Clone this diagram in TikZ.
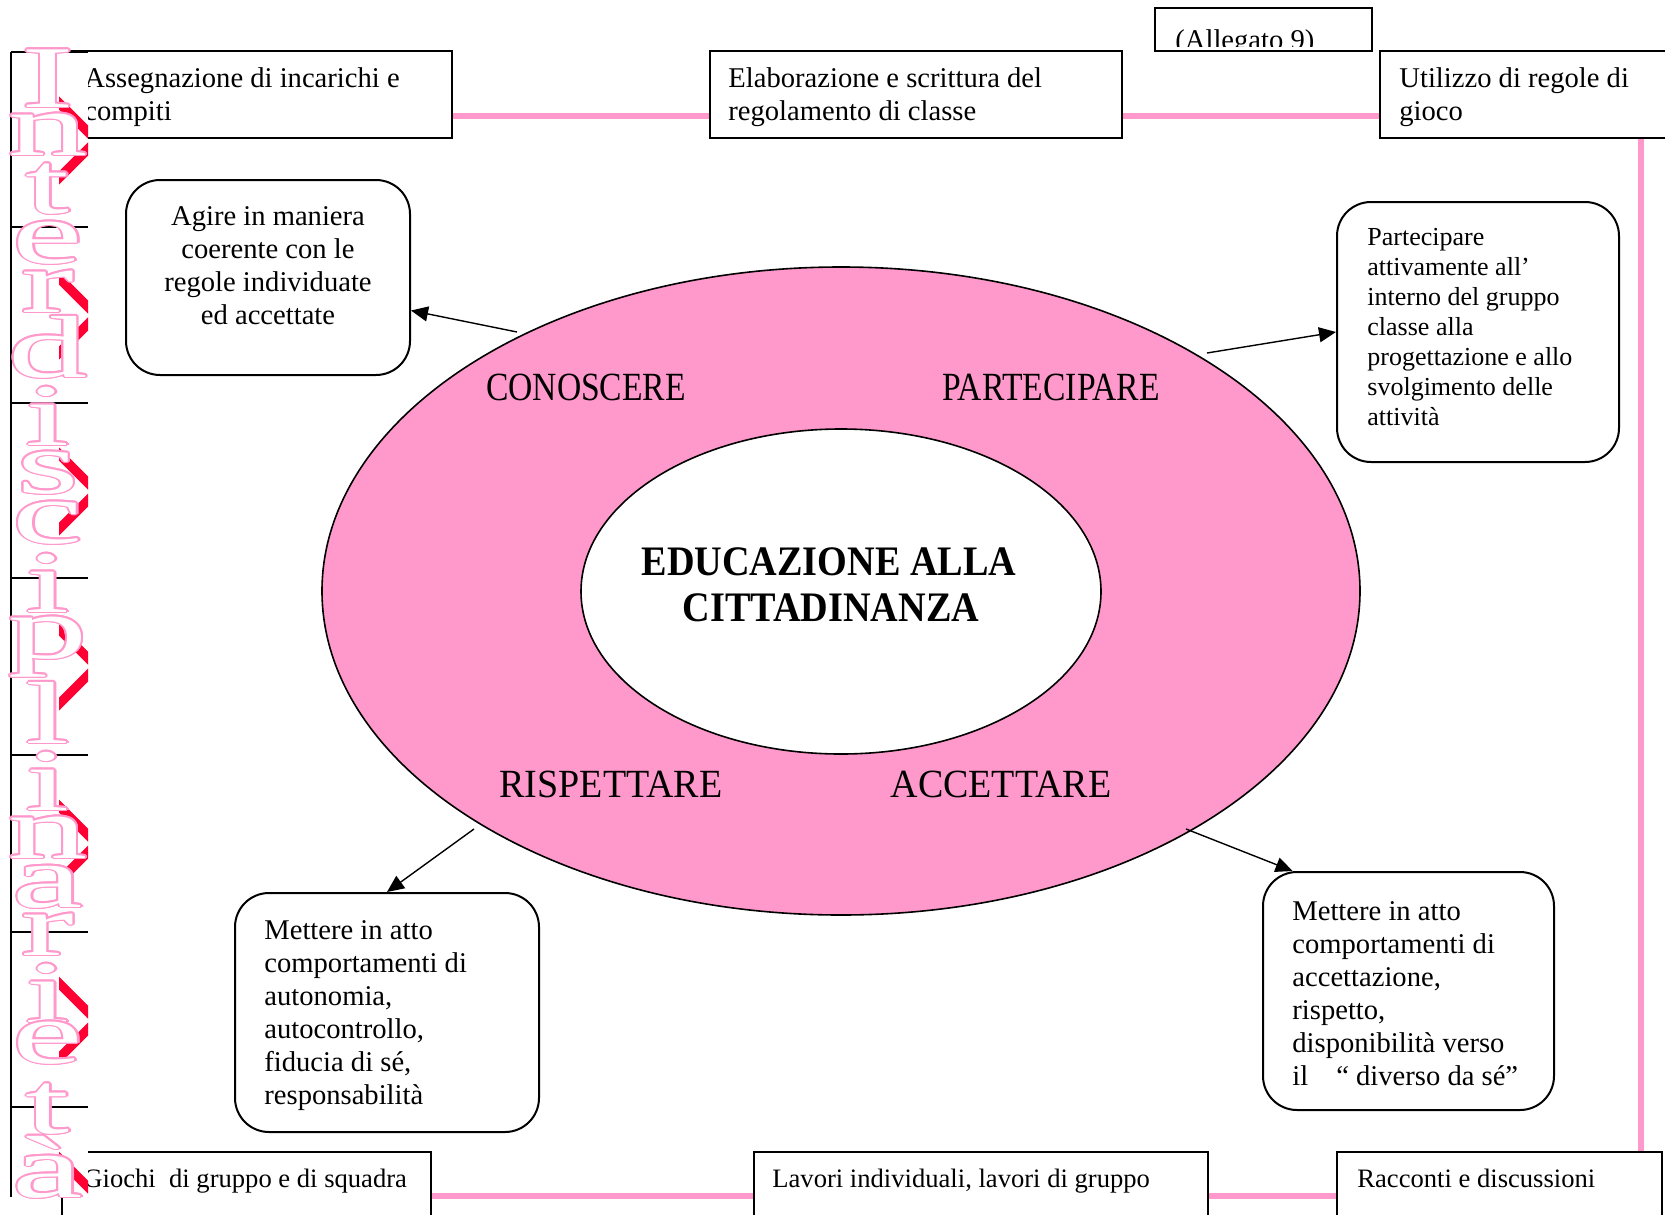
\documentclass[tikz,border=0pt]{standalone}
\usepackage{fontspec}
\setmainfont{Liberation Serif}
\usepackage{contour}
\contourlength{0.6pt}
\contournumber{16}
\usetikzlibrary{shapes.geometric,arrows.meta}
\definecolor{rosa}{HTML}{FF99CC}
\definecolor{rosso}{HTML}{FF0033}
\newcommand{\hollow}[1]{{\color{white}\contour{rosa}{#1}}}
\begin{document}
\begin{tikzpicture}[x=0.5pt,y=-0.5pt,
  sqbox/.style={draw, line width=1pt, fill=white, rectangle, inner sep=0pt},
  rbox/.style={draw, line width=1pt, fill=white, rectangle, rounded corners=17pt, inner sep=0pt},
  body/.style={inner sep=0pt, font=\fontsize{14.3pt}{16.5pt}\selectfont},
  bodysm/.style={inner sep=0pt, font=\fontsize{13pt}{15pt}\selectfont},
  bodyb/.style={inner sep=0pt, font=\fontsize{13.3pt}{15pt}\selectfont},
  link/.style={draw=rosa, line width=3.3pt},
  arr/.style={draw, line width=0.7pt, -{Triangle[length=8.5pt,width=7.5pt]}},
  lbl/.style={inner sep=0pt, anchor=base, font=\fontsize{20pt}{24pt}\selectfont},
  tit/.style={inner sep=0pt, anchor=base, font=\fontsize{21pt}{21pt}\selectfont\bfseries},
  letter/.style={inner sep=0pt, anchor=base, font=\fontsize{44pt}{50pt}\selectfont}
]
\useasboundingbox (0,0) rectangle (1665,1215);
\fill[white] (0,0) rectangle (1665,1215);

% ---- activity boxes, top row ----
\node[sqbox, minimum width=194pt, minimum height=43.5pt] (A) at (258,94.5) {};
\node[sqbox, minimum width=206pt, minimum height=43.5pt] (B) at (916,94.5) {};
\node[sqbox, minimum width=160pt, minimum height=43.5pt] (C) at (1540,94.5) {};
\node[sqbox, minimum width=108.5pt, minimum height=21.5pt] (alleg) at (1263.5,29.5) {};
\begin{scope}
  \clip (1155,8) rectangle (1372,46);
  \node[body, anchor=base west] (allegT) at (1175,49) {(Allegato 9)};
\end{scope}
\foreach \t [count=\i] in {Assegnazione di incarichi e, compiti}
  \node[body, anchor=base west] (At\i) at (84,{87+33*(\i-1)}) {\t};
\foreach \t [count=\i] in {Elaborazione e scrittura del, regolamento di classe}
  \node[body, anchor=base west] (Bt\i) at (728,{87+33*(\i-1)}) {\t};
\foreach \t [count=\i] in {Utilizzo di regole di, gioco}
  \node[body, anchor=base west] (Ct\i) at (1399,{87+33*(\i-1)}) {\t};

% ---- activity boxes, bottom row ----
\node[sqbox, minimum width=184.5pt, minimum height=44pt] (D) at (246.5,1196) {};
\node[sqbox, minimum width=227pt, minimum height=44pt] (E) at (981,1196) {};
\node[sqbox, minimum width=162.5pt, minimum height=44pt] (F) at (1499.5,1196) {};
\node[bodyb, anchor=base west] (Dt) at (83,1187) {Giochi\ \ di gruppo e di squadra};
\node[bodyb, anchor=base west] (Et) at (772,1187) {Lavori individuali, lavori di gruppo};
\node[bodyb, anchor=base west] (Ft) at (1357,1187) {Racconti e discussioni};

% ---- pink links between the activities ----
\draw[link] (A.east |- 0,116) -- (B.west |- 0,116);
\draw[link] (B.east |- 0,116) -- (C.west |- 0,116);
\draw[link] (C.south -| 1641,0) -- (F.north -| 1641,0);
\draw[link] (D.east) -- (E.west);
\draw[link] (E.east) -- (F.west);

% ---- central ring ----
\node[ellipse, draw, line width=0.8pt, fill=rosa, minimum width=519pt, minimum height=324pt, inner sep=0pt] (outer) at (841,591) {};
\node[ellipse, draw, line width=0.8pt, fill=white, minimum width=260pt, minimum height=162.5pt, inner sep=0pt] (inner) at (841,591.5) {};
\node[tit] (titA) at (829,575) {\scalebox{0.91}[1]{EDUCAZIONE ALLA}};
\node[tit] (titB) at (831,621) {\scalebox{0.91}[1]{CITTADINANZA}};
\node[lbl] (lCon) at (586,400) {\scalebox{0.84}[1]{CONOSCERE}};
\node[lbl] (lPar) at (1051,400) {\scalebox{0.84}[1]{PARTECIPARE}};
\node[lbl] (lRis) at (611,797) {\scalebox{0.95}[1]{RISPETTARE}};
\node[lbl] (lAcc) at (1001,797) {\scalebox{0.95}[1]{ACCETTARE}};

% ---- goal boxes ----
\node[rbox, minimum width=142pt, minimum height=97.5pt] (G) at (268,277.5) {};
\node[rbox, minimum width=141pt, minimum height=130pt] (H) at (1478,332) {};
\node[rbox, minimum width=152pt, minimum height=119.5pt] (I) at (387,1012.5) {};
\node[rbox, minimum width=145.5pt, minimum height=119pt] (J) at (1408.5,991) {};
\foreach \t [count=\i] in {Agire in maniera, coerente con le, regole individuate, ed accettate}
  \node[body, anchor=base] (Gt\i) at (268,{225+33*(\i-1)}) {\t};
\foreach \t [count=\i] in {Partecipare, attivamente all’, interno del gruppo, classe alla, progettazione e allo, svolgimento delle, attività}
  \node[bodysm, anchor=base west] (Ht\i) at (1367,{245+30*(\i-1)}) {\t};
\foreach \t [count=\i] in {Mettere in atto, comportamenti di, {autonomia,}, {autocontrollo,}, {fiducia di sé,}, responsabilità}
  \node[body, anchor=base west] (It\i) at (264,{939+33*(\i-1)}) {\t};
\foreach \t [count=\i] in {Mettere in atto, comportamenti di, {accettazione,}, {rispetto,}, disponibilità verso, {il\hspace{14pt}“ diverso da sé”}}
  \node[body, anchor=base west] (Jt\i) at (1292,{920+33*(\i-1)}) {\t};

% ---- arrows from the ring to the goals ----
\coordinate (s1) at (517,332);
\coordinate (s2) at (1207,353);
\coordinate (s3) at (474,829);
\coordinate (s4) at (1186,829);
\draw[arr] (s1) -- (G.-13.7);
\draw[arr] (s2) -- (H.west);
\draw[arr] (s3) -- (I.north);
\draw[arr] (s4) -- (J.134.3);

% ---- vertical banner on the left ----
\begin{scope}
  \clip (0,0) rectangle (88,1215);
  \fill[white] (11,52) rectangle (88,1197);
  \begin{scope}
    \clip (59,52) rectangle (88,1197);
    \foreach \T in {52,227,403,578,755,932,1107} {
      \draw[rosso, line width=4.6pt] (50,\T+42) -- (97,\T+89);
      \draw[rosso, line width=4.6pt] (97,\T+88) -- (50,\T+135);
    }
  \end{scope}
  \draw[line width=1pt] (11,52) -- (11,1197);
  \foreach \y in {52,227,403,578,755,932,1107}
    \draw[line width=1pt] (11,\y) -- (88,\y);
  \foreach \l/\b [count=\k] in {I/107, n/155, t/213, e/263, r/312, d/377, i/445, s/493, c/543, i/612, p/658, l/743, i/810, n/858, a/907, r/955, i/1022, e/1063, t/1133, à/1197}
    \node[letter] (ch\k) at (48,\b) {\scalebox{1.8}[1]{\hollow{\l}}};
\end{scope}
\end{tikzpicture}
\end{document}
